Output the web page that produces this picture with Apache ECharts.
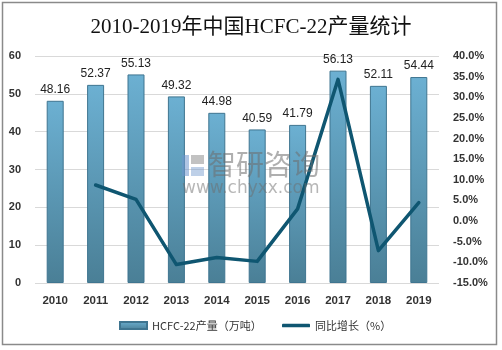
<!DOCTYPE html>
<html>
<head>
<meta charset="utf-8">
<script src="https://cdn.jsdelivr.net/npm/echarts@6/dist/echarts.min.js"></script>
<style>
html, body { margin: 0; padding: 0; background: #fff; }
#chart { width: 502px; height: 350px; }
</style>
</head>
<body>
<div id="chart"></div>
<script>
// Annual HCFC-22 output in China (10k tonnes) and year-on-year growth (%)
var years = ['2010', '2011', '2012', '2013', '2014', '2015', '2016', '2017', '2018', '2019'];
var output = [48.16, 52.37, 55.13, 49.32, 44.98, 40.59, 41.79, 56.13, 52.11, 54.44];
var growth = [null, 8.74, 5.27, -10.54, -8.80, -9.76, 2.96, 34.33, -7.16, 4.47];

var axisFont = 'Liberation Sans, Arial, sans-serif';
var legendText = { fontFamily: '"Noto Sans CJK SC", sans-serif', fontSize: 11, color: '#333' };
var chart = echarts.init(document.getElementById('chart'), null, { renderer: 'canvas' });

chart.setOption({
  animation: false,
  backgroundColor: '#fff',
  title: {
    text: '2010-2019年中国HCFC-22产量统计',
    left: 'center',
    top: 12,
    textStyle: {
      fontFamily: 'Liberation Serif, "Noto Sans CJK SC", serif',
      fontSize: 21,
      fontWeight: 'normal',
      color: '#111'
    }
  },
  legend: [
    {
      bottom: 14,
      left: 114,
      itemWidth: 27,
      itemHeight: 7,
      textStyle: legendText,
      data: [{ name: 'HCFC-22产量（万吨）', icon: 'rect' }]
    },
    {
      bottom: 14,
      left: 277,
      itemWidth: 28,
      itemHeight: 3.5,
      textStyle: legendText,
      data: [{ name: '同比增长（%）', icon: 'roundRect' }]
    }
  ],
  grid: { left: 35, right: 63, top: 56, bottom: 67 },
  xAxis: {
    type: 'category',
    data: years,
    axisLine: { show: false },
    axisTick: { show: false },
    axisLabel: { fontFamily: axisFont, fontWeight: 'bold', fontSize: 11.5, color: '#333', margin: 12 }
  },
  yAxis: [
    {
      type: 'value', min: 0, max: 60, interval: 10,
      axisLine: { show: false }, axisTick: { show: false },
      splitLine: { lineStyle: { color: '#d9d9d9', width: 1 } },
      axisLabel: { fontFamily: axisFont, fontWeight: 'bold', fontSize: 11, color: '#333', margin: 14 }
    },
    {
      type: 'value', min: -15, max: 40, interval: 5,
      axisLine: { show: false }, axisTick: { show: false },
      splitLine: { show: false },
      axisLabel: {
        fontFamily: axisFont, fontWeight: 'bold', fontSize: 11, color: '#333', margin: 14,
        formatter: function (v) { return v.toFixed(1) + '%'; }
      }
    }
  ],
  series: [
    {
      name: 'HCFC-22产量（万吨）',
      type: 'bar',
      yAxisIndex: 0,
      data: output,
      barWidth: 17,
      itemStyle: {
        color: new echarts.graphic.LinearGradient(0, 0, 0, 1, [
          { offset: 0, color: '#6cb0d2' },
          { offset: 1, color: '#4a7f96' }
        ]),
        borderColor: '#3f7590',
        borderWidth: 1
      },
      label: {
        show: true,
        position: 'top',
        distance: 5,
        fontFamily: axisFont,
        fontSize: 12,
        color: '#222',
        formatter: function (p) { return p.value.toFixed(2); }
      }
    },
    {
      name: '同比增长（%）',
      type: 'line',
      yAxisIndex: 1,
      data: growth,
      showSymbol: false,
      symbol: 'none',
      lineStyle: { color: '#0f5671', width: 3.5, cap: 'round', join: 'round' },
      itemStyle: { color: '#0f5671' },
      z: 5
    }
  ],
  graphic: [
    {
      type: 'rect',
      shape: { x: 2.5, y: 2.5, width: 494, height: 342 },
      style: { fill: 'none', stroke: '#8a8a8a', lineWidth: 1.5 },
      silent: true
    },
    {
      type: 'group',
      left: 182, top: 150,
      silent: true,
      children: [
        { type: 'rect', z: 100, shape: { x: 0, y: 3, width: 7, height: 21 }, style: { fill: 'rgba(110,150,205,0.55)' } },
        { type: 'rect', z: 100, shape: { x: 9, y: 3, width: 13, height: 9 }, style: { fill: 'rgba(120,120,120,0.45)' } },
        { type: 'rect', z: 100, shape: { x: 9, y: 15, width: 13, height: 9 }, style: { fill: 'rgba(110,150,205,0.45)' } },
        {
          type: 'text', z: 100, left: 26, top: -2,
          style: { text: '智研咨询', font: '28px "Noto Sans CJK SC", sans-serif', fill: 'rgba(110,110,110,0.55)' }
        },
        {
          type: 'text', z: 100, left: 0, top: 28,
          style: { text: 'www.chyxx.com', font: '17px "DejaVu Sans", sans-serif', fill: 'rgba(110,110,110,0.5)' }
        }
      ]
    }
  ]
});
</script>
</body>
</html>
